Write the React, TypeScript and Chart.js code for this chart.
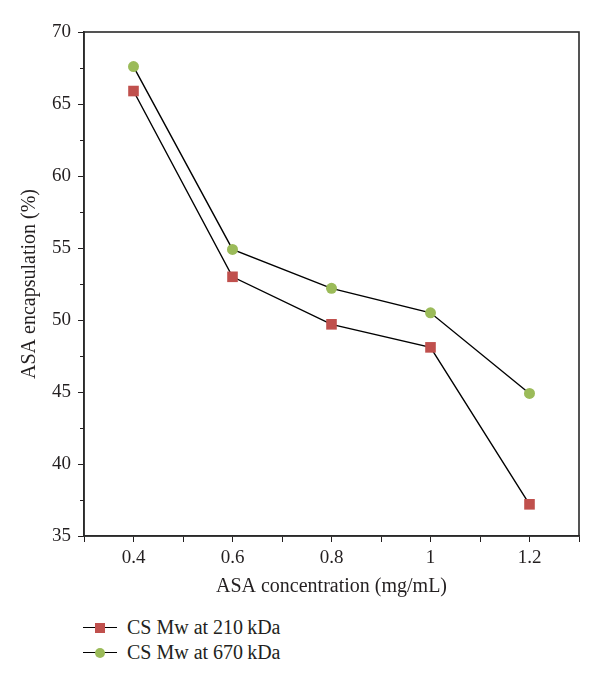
import React, { useEffect, useRef } from "react";
import { Chart, registerables } from "chart.js";

Chart.register(...registerables);

const concentrations = [0.4, 0.6, 0.8, 1.0, 1.2];
const series210 = [65.9, 53.0, 49.7, 48.1, 37.2];
const series670 = [67.6, 54.9, 52.2, 50.5, 44.9];
const seriesLabels = ["CS Mw at 210\u2009kDa", "CS Mw at 670\u2009kDa"];
const xTitle = "ASA concentration (mg/mL)";
const yTitle = "ASA encapsulation (%)";

const RED = "#c0504d";
const GREEN = "#9bbb59";
const INK = "#231f20";
const FONT = "'Liberation Serif', 'DejaVu Serif', serif";

const framePlugin = {
  id: "frameAndMinorTicks",
  afterDraw(chart: any) {
    const { ctx, chartArea } = chart;
    const y = chart.scales.y;
    ctx.save();
    ctx.strokeStyle = "#2a2a2a";
    ctx.lineWidth = 1.6;
    ctx.strokeRect(chartArea.left, chartArea.top, chartArea.right - chartArea.left, chartArea.bottom - chartArea.top);
    ctx.lineWidth = 1;
    ctx.strokeStyle = INK;
    y.ticks.forEach((t: any) => {
      if (Math.abs(t.value / 5 - Math.round(t.value / 5)) > 1e-6) {
        const py = Math.round(y.getPixelForValue(t.value)) + 0.5;
        ctx.beginPath();
        ctx.moveTo(y.right - 4, py);
        ctx.lineTo(y.right, py);
        ctx.stroke();
      }
    });
    ctx.restore();
  },
};

export default function App() {
  const ref = useRef<HTMLCanvasElement | null>(null);

  useEffect(() => {
    if (!ref.current) return;
    const chart = new Chart(ref.current, {
      type: "line",
      data: {
        datasets: [
          {
            label: seriesLabels[0],
            data: concentrations.map((x, i) => ({ x, y: series210[i] })),
            borderColor: "#000",
            borderWidth: 1.4,
            pointStyle: "rect",
            pointRadius: 7.5,
            pointBackgroundColor: RED,
            pointBorderColor: RED,
            pointBorderWidth: 0,
            tension: 0,
          },
          {
            label: seriesLabels[1],
            data: concentrations.map((x, i) => ({ x, y: series670[i] })),
            borderColor: "#000",
            borderWidth: 1.4,
            pointStyle: "circle",
            pointRadius: 5.5,
            pointBackgroundColor: GREEN,
            pointBorderColor: GREEN,
            pointBorderWidth: 0,
            tension: 0,
          },
        ],
      },
      options: {
        animation: false,
        responsive: false,
        devicePixelRatio: 1,
        layout: { padding: { left: 0, top: 24, right: 13, bottom: 0 } },
        plugins: { legend: { display: false }, tooltip: { enabled: false } },
        scales: {
          x: {
            type: "linear",
            min: 0.3,
            max: 1.3,
            afterFit: (s: any) => {
              s.height = 72;
              s.paddingLeft = 0;
              s.paddingRight = 0;
            },
            ticks: {
              stepSize: 0.1,
              autoSkip: false,
              maxRotation: 0,
              padding: 5,
              color: INK,
              font: { family: FONT, size: 19 },
              callback: (v: any) => {
                const n = Math.round(Number(v) * 10);
                return n % 2 === 0 ? String(n / 10) : "";
              },
            },
            grid: { drawOnChartArea: false, drawTicks: true, tickLength: 6, tickColor: INK, tickWidth: 1 },
            border: { display: true, color: "#2a2a2a", width: 1.6 },
            title: { display: true, text: xTitle, color: INK, font: { family: FONT, size: 20 }, padding: { top: 0, bottom: 9 } },
          },
          y: {
            min: 35,
            max: 70,
            afterFit: (s: any) => {
              s.width = 76;
            },
            ticks: {
              stepSize: 2.5,
              autoSkip: false,
              padding: 7,
              color: INK,
              font: { family: FONT, size: 19 },
              callback: (v: any) => (Number(v) % 5 === 0 ? String(v) : ""),
            },
            grid: {
              drawOnChartArea: false,
              drawTicks: true,
              tickLength: 6,
              tickWidth: 1,
              tickColor: (c: any) => (c.tick && c.tick.value % 5 === 0 ? INK : "rgba(0,0,0,0)"),
            },
            border: { display: true, color: "#2a2a2a", width: 1.6 },
            title: { display: true, text: yTitle, color: INK, font: { family: FONT, size: 20 }, padding: { top: 10, bottom: 0 } },
          },
        },
      },
      plugins: [framePlugin],
    });
    return () => chart.destroy();
  }, []);

  const legendItems = [
    { label: seriesLabels[0], color: RED, shape: "square" },
    { label: seriesLabels[1], color: GREEN, shape: "circle" },
  ];

  return (
    <div style={{ position: "relative", width: 584, height: 669 }}>
      <canvas ref={ref} width={584} height={600} style={{ display: "block", width: 584, height: 600 }} />
      <div style={{ position: "absolute", left: 75, top: 607 }}>
        {legendItems.map((it) => (
          <div key={it.label} style={{ display: "flex", alignItems: "center", height: 25 }}>
            <div style={{ position: "relative", width: 34, height: 12, marginRight: 10 }}>
              <div style={{ position: "absolute", left: 0, right: 0, top: 5.5, height: 1.4, background: "#000" }} />
              <div
                style={{
                  position: "absolute",
                  left: 12,
                  top: 1,
                  width: 10,
                  height: 10,
                  background: it.color,
                  borderRadius: it.shape === "circle" ? "50%" : 0,
                }}
              />
            </div>
            <span style={{ fontFamily: FONT, fontSize: 20, color: INK, lineHeight: "25px" }}>{it.label}</span>
          </div>
        ))}
      </div>
    </div>
  );
}
